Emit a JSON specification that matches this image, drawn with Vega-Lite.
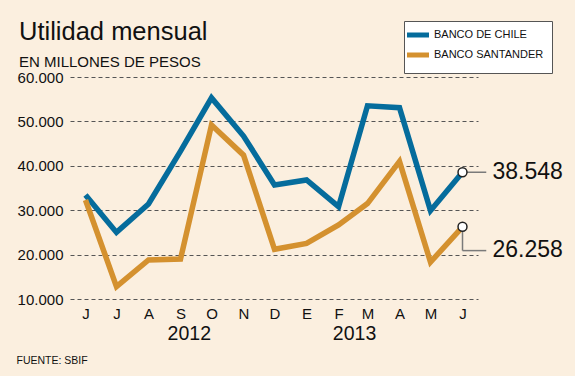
{
  "$schema": "https://vega.github.io/schema/vega-lite/v6.json",
  "width": 408,
  "height": 222,
  "autosize": {"type": "none"},
  "padding": {"left": 70, "top": 77, "right": 97, "bottom": 77},
  "background": "#fbefdf",
  "title": {
    "text": "Utilidad mensual",
    "subtitle": "EN MILLONES DE PESOS",
    "anchor": "start",
    "frame": "group",
    "dx": -51,
    "offset": -49,
    "font": "Liberation Sans",
    "fontSize": 25.5,
    "fontWeight": "normal",
    "color": "#111111",
    "subtitleFont": "Liberation Sans",
    "subtitleFontSize": 15,
    "subtitleColor": "#111111",
    "subtitlePadding": 9
  },
  "datasets": {
    "utilidad": [
      {"fecha": "2012-06-01", "banco": "BANCO DE CHILE", "valor": 33400},
      {"fecha": "2012-07-01", "banco": "BANCO DE CHILE", "valor": 25000},
      {"fecha": "2012-08-01", "banco": "BANCO DE CHILE", "valor": 31400},
      {"fecha": "2012-09-01", "banco": "BANCO DE CHILE", "valor": 43300},
      {"fecha": "2012-10-01", "banco": "BANCO DE CHILE", "valor": 55300},
      {"fecha": "2012-11-01", "banco": "BANCO DE CHILE", "valor": 46700},
      {"fecha": "2012-12-01", "banco": "BANCO DE CHILE", "valor": 35700},
      {"fecha": "2013-01-01", "banco": "BANCO DE CHILE", "valor": 36800},
      {"fecha": "2013-02-01", "banco": "BANCO DE CHILE", "valor": 30800},
      {"fecha": "2013-03-01", "banco": "BANCO DE CHILE", "valor": 53500},
      {"fecha": "2013-04-01", "banco": "BANCO DE CHILE", "valor": 53100},
      {"fecha": "2013-05-01", "banco": "BANCO DE CHILE", "valor": 29900},
      {"fecha": "2013-06-01", "banco": "BANCO DE CHILE", "valor": 38548},
      {"fecha": "2012-06-01", "banco": "BANCO SANTANDER", "valor": 32300},
      {"fecha": "2012-07-01", "banco": "BANCO SANTANDER", "valor": 12800},
      {"fecha": "2012-08-01", "banco": "BANCO SANTANDER", "valor": 18800},
      {"fecha": "2012-09-01", "banco": "BANCO SANTANDER", "valor": 19000},
      {"fecha": "2012-10-01", "banco": "BANCO SANTANDER", "valor": 49200},
      {"fecha": "2012-11-01", "banco": "BANCO SANTANDER", "valor": 42400},
      {"fecha": "2012-12-01", "banco": "BANCO SANTANDER", "valor": 21200},
      {"fecha": "2013-01-01", "banco": "BANCO SANTANDER", "valor": 22500},
      {"fecha": "2013-02-01", "banco": "BANCO SANTANDER", "valor": 26700},
      {"fecha": "2013-03-01", "banco": "BANCO SANTANDER", "valor": 31500},
      {"fecha": "2013-04-01", "banco": "BANCO SANTANDER", "valor": 41000},
      {"fecha": "2013-05-01", "banco": "BANCO SANTANDER", "valor": 18300},
      {"fecha": "2013-06-01", "banco": "BANCO SANTANDER", "valor": 26258}
    ],
    "finales": [
      {"fecha": "2013-06-01", "banco": "BANCO DE CHILE", "valor": 38548, "rotulo": 38548},
      {"fecha": "2013-06-01", "banco": "BANCO SANTANDER", "valor": 26258, "rotulo": 21000}
    ],
    "guias": [
      {"inicio": "2013-06-01", "fin": "2013-06-24", "desde": 38548, "hasta": 38548},
      {"inicio": "2013-06-01", "fin": "2013-06-01", "desde": 26258, "hasta": 20900},
      {"inicio": "2013-06-01", "fin": "2013-06-24", "desde": 20900, "hasta": 20900}
    ]
  },
  "resolve": {"axis": {"x": "independent", "y": "independent"}},
  "layer": [
    {
      "data": {"name": "utilidad"},
      "mark": {"type": "line", "strokeWidth": 5.5, "strokeJoin": "miter", "strokeCap": "butt"},
      "encoding": {
        "x": {
          "field": "fecha",
          "type": "temporal",
          "scale": {
            "type": "utc",
            "domain": [
              {"year": 2012, "month": 5, "date": 17, "utc": true},
              {"year": 2013, "month": 6, "date": 16, "utc": true}
            ]
          },
          "axis": {
            "orient": "bottom",
            "values": [
              {"year": 2012, "month": 6, "date": 1, "utc": true},
              {"year": 2012, "month": 7, "date": 1, "utc": true},
              {"year": 2012, "month": 8, "date": 1, "utc": true},
              {"year": 2012, "month": 9, "date": 1, "utc": true},
              {"year": 2012, "month": 10, "date": 1, "utc": true},
              {"year": 2012, "month": 11, "date": 1, "utc": true},
              {"year": 2012, "month": 12, "date": 1, "utc": true},
              {"year": 2013, "month": 1, "date": 1, "utc": true},
              {"year": 2013, "month": 2, "date": 1, "utc": true},
              {"year": 2013, "month": 3, "date": 1, "utc": true},
              {"year": 2013, "month": 4, "date": 1, "utc": true},
              {"year": 2013, "month": 5, "date": 1, "utc": true},
              {"year": 2013, "month": 6, "date": 1, "utc": true}
            ],
            "labelExpr": "['E','F','M','A','M','J','J','A','S','O','N','D'][utcmonth(datum.value)]",
            "grid": false,
            "domain": false,
            "ticks": false,
            "labelPadding": 7,
            "labelFont": "Liberation Sans",
            "labelFontSize": 15,
            "labelColor": "#111111",
            "labelFlush": false,
            "labelOverlap": false,
            "title": "FUENTE: SBIF",
            "titleFont": "Liberation Sans",
            "titleFontSize": 10.5,
            "titleFontWeight": "normal",
            "titleColor": "#111111",
            "titleAnchor": "start",
            "titleAlign": "left",
            "titleBaseline": "alphabetic",
            "titleX": -54,
            "titleY": 64
          }
        },
        "y": {
          "field": "valor",
          "type": "quantitative",
          "scale": {"domain": [10000, 60000], "nice": false, "zero": false},
          "axis": {
            "orient": "left",
            "values": [10000, 20000, 30000, 40000, 50000, 60000],
            "format": ",d",
            "title": null,
            "domain": false,
            "ticks": false,
            "grid": true,
            "gridColor": "#555555",
            "gridDash": [4, 3],
            "gridWidth": 1,
            "labelPadding": 7,
            "labelFont": "Liberation Sans",
            "labelFontSize": 15,
            "labelColor": "#111111"
          }
        },
        "color": {
          "field": "banco",
          "type": "nominal",
          "scale": {
            "domain": ["BANCO DE CHILE", "BANCO SANTANDER"],
            "range": ["#056c9c", "#d4912f"]
          },
          "legend": {
            "title": null,
            "orient": "none",
            "legendX": 334,
            "legendY": -56,
            "direction": "vertical",
            "fillColor": "#ffffff",
            "strokeColor": "#555555",
            "padding": 8,
            "symbolType": "M-3.14,0H3.14",
            "symbolStrokeWidth": 5,
            "symbolSize": 49,
            "symbolFillColor": "transparent",
            "labelFont": "Liberation Sans",
            "labelFontSize": 11,
            "labelColor": "#111111",
            "labelOffset": 10,
            "rowPadding": 0
          }
        }
      }
    },
    {
      "data": {"name": "guias"},
      "mark": {"type": "rule", "color": "#7a7a7a", "strokeWidth": 1.5},
      "encoding": {
        "x": {"field": "inicio", "type": "temporal", "axis": null},
        "x2": {"field": "fin"},
        "y": {"field": "desde", "type": "quantitative", "axis": null},
        "y2": {"field": "hasta"}
      }
    },
    {
      "data": {"name": "finales"},
      "mark": {"type": "point", "shape": "circle", "filled": true, "fill": "#ffffff", "stroke": "#222222", "strokeWidth": 1.5, "size": 80, "opacity": 1},
      "encoding": {
        "x": {
          "field": "fecha",
          "type": "temporal",
          "axis": {
            "orient": "bottom",
            "values": [
              {"year": 2012, "month": 9, "date": 9, "utc": true},
              {"year": 2013, "month": 2, "date": 16, "utc": true}
            ],
            "labelExpr": "utcFormat(datum.value, '%Y')",
            "grid": false,
            "domain": false,
            "ticks": false,
            "labelPadding": 25,
            "labelFont": "Liberation Sans",
            "labelFontSize": 19.5,
            "labelColor": "#111111",
            "labelFlush": false,
            "labelOverlap": false,
            "title": null
          }
        },
        "y": {"field": "valor", "type": "quantitative", "axis": null}
      }
    },
    {
      "data": {"name": "finales"},
      "mark": {"type": "text", "align": "left", "baseline": "middle", "dx": 30, "font": "Liberation Sans", "fontSize": 23, "color": "#111111"},
      "encoding": {
        "x": {"field": "fecha", "type": "temporal", "axis": null},
        "y": {"field": "rotulo", "type": "quantitative", "axis": null},
        "text": {"field": "valor", "type": "quantitative", "format": ",d"}
      }
    }
  ],
  "config": {
    "font": "Liberation Sans",
    "locale": {
      "number": {"decimal": ",", "thousands": ".", "grouping": [3], "currency": ["$", ""]}
    },
    "view": {"stroke": null}
  }
}
